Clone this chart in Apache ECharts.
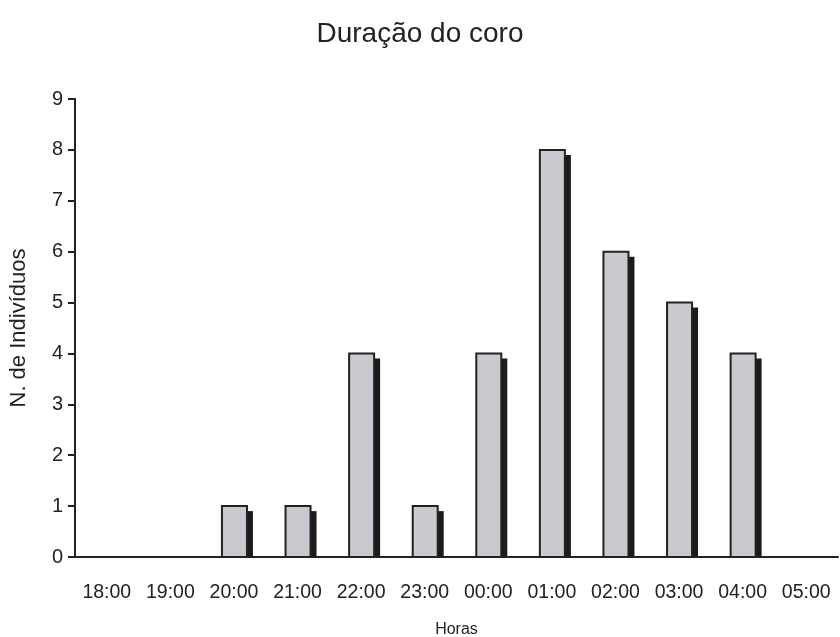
<!DOCTYPE html>
<html><head><meta charset="utf-8">
<script src="https://cdn.jsdelivr.net/npm/echarts@6/dist/echarts.min.js"></script>
<style>html,body{margin:0;padding:0;background:#fff}#c{width:840px;height:637px}</style>
</head><body><div id="c"></div>
<script>
const categories = ['18:00','19:00','20:00','21:00','22:00','23:00','00:00','01:00','02:00','03:00','04:00','05:00'];
const values = [0,0,1,1,4,1,4,8,6,5,4,0];
const yTicks = [0,1,2,3,4,5,6,7,8,9];

const chart = echarts.init(document.getElementById('c'));
const font = 'Liberation Sans, Arial, sans-serif';
chart.setOption({
  animation: false,
  title: { text: 'Duração do coro', left: 'center', top: 15,
    textStyle: { fontFamily: font, fontSize: 28, fontWeight: 'normal', color: '#222' } },
  grid: { left: 75, right: 2, top: 99, bottom: 80, containLabel: false, outerBoundsMode: 'none' },
  xAxis: { type: 'category', data: categories, name: 'Horas', nameLocation: 'middle', nameGap: 65,
    nameTextStyle: { fontFamily: font, fontSize: 16, color: '#222' },
    axisLine: { lineStyle: { color: '#222', width: 2 } },
    axisTick: { length: 7, lineStyle: { color: '#222', width: 2 } },
    axisLabel: { fontFamily: font, fontSize: 19.5, color: '#222', margin: 26, hideOverlap: false } },
  yAxis: { type: 'value', min: 0, max: 9, interval: 1, name: 'N. de Indivíduos', nameLocation: 'middle', nameGap: 45,
    nameTextStyle: { fontFamily: font, fontSize: 22, color: '#222' },
    splitLine: { show: false },
    axisLine: { show: true, lineStyle: { color: '#222', width: 2 } },
    axisTick: { show: true, length: 7, lineStyle: { color: '#222', width: 2 } },
    axisLabel: { fontFamily: font, fontSize: 20, color: '#222', margin: 12,
      formatter: v => yTicks.includes(v) ? String(v) : '' } },
  series: [{
    type: 'custom',
    data: values.map((v, i) => [i, v]),
    renderItem: function (params, api) {
      const v = api.value(1);
      if (!v) return null;
      const top = api.coord([api.value(0), v]);
      const base = api.coord([api.value(0), 0]);
      const w = 25;
      const x0 = top[0] - w / 2 + 0.5;
      const h = base[1] - top[1];
      return { type: 'group', children: [
        { type: 'rect', shape: { x: x0 + w - 2, y: top[1] + 5, width: 8, height: h - 5 },
          style: { fill: '#1b1b1b' } },
        { type: 'rect', shape: { x: x0, y: top[1], width: w, height: h },
          style: { fill: '#c9c9cf', stroke: '#222', lineWidth: 2 } }
      ] };
    }
  }]
});
</script></body></html>
